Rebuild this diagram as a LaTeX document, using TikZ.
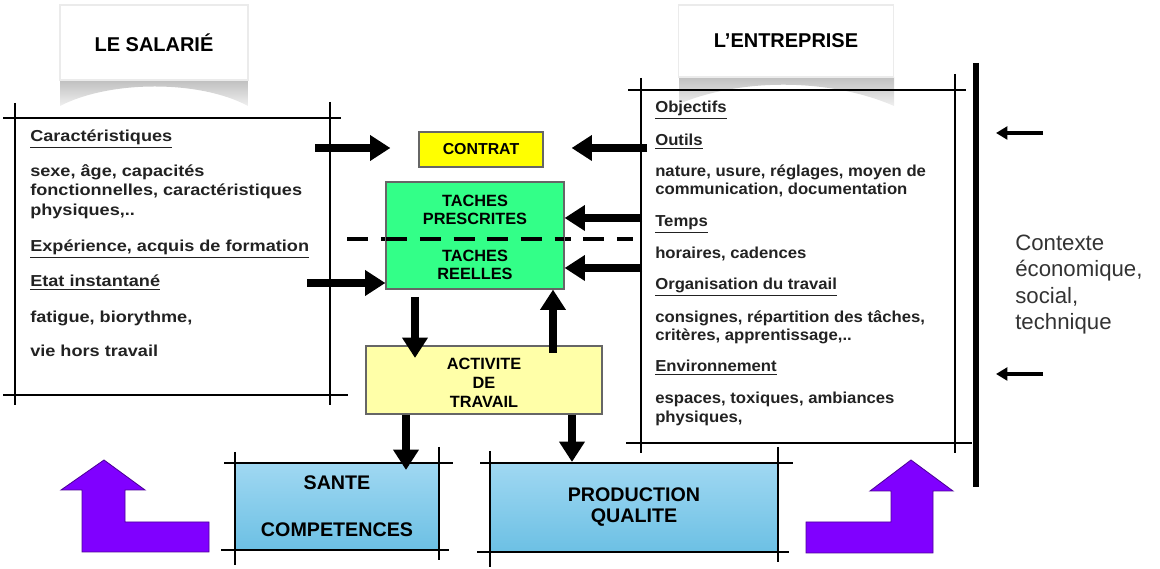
\documentclass[tikz,border=0pt]{standalone}
\usepackage{fontspec}
\setmainfont{Liberation Sans}
\newfontfamily\wideface[FakeStretch=1.14]{Liberation Sans}
\newfontfamily\narrowface[FakeStretch=1.05]{Liberation Sans}
\usetikzlibrary{arrows.meta}

\definecolor{textgrey}{HTML}{222222}
\definecolor{contratyellow}{HTML}{FFFF00}
\definecolor{activiteyellow}{HTML}{FFFFA8}
\definecolor{tachegreen}{HTML}{33FF88}
\definecolor{blueTop}{HTML}{A0D8F2}
\definecolor{blueBottom}{HTML}{6CC0E4}
\definecolor{retourviolet}{HTML}{8000FF}

\begin{document}
\begin{tikzpicture}[x=0.025cm, y=-0.025cm,
    frame/.style={line width=2.1pt},
    bigarrow/.style={line width=5.3pt, -{Triangle[width=17.5pt,length=14.5pt]}},
    smallarrow/.style={line width=2.8pt, -{Triangle[width=9pt,length=8pt]}},
    boxtext/.style={font=\wideface\fontsize{11.3}{13.8}\selectfont\bfseries, text=textgrey, anchor=base west, inner sep=0pt},
    boxtextright/.style={boxtext, font=\narrowface\fontsize{11.3}{13.8}\selectfont\bfseries},
    centerbox/.style={draw=black!60, line width=0.8pt, font=\fontsize{11.6}{12.8}\selectfont\bfseries, align=center, inner sep=0pt},
    resultbox/.style={top color=blueTop, bottom color=blueBottom, font=\fontsize{14}{15}\selectfont\bfseries, align=center, inner sep=0pt},
    tab/.style={fill=white, draw=black!8, line width=1pt, font=\fontsize{14.2}{16}\selectfont\bfseries, inner sep=0pt},
    retour/.style={fill=retourviolet, draw=retourviolet!60!black, line width=0.6pt}]

    \useasboundingbox (0,0) rectangle (1160,569);

    % onglets
    \shade [top color=gray!50, bottom color=gray!12] (60,80) -- (60,106) .. controls (110,80) and (200,80) .. (248,106) -- (248,80) -- cycle;
    \shade [top color=gray!50, bottom color=gray!12] (679,77) -- (679,104) .. controls (740,78) and (830,78) .. (894,106) -- (894,77) -- cycle;
    \node [tab, minimum width=4.7cm, minimum height=1.875cm] (salarie) at (154,42.5) {LE SALARI\'E};
    \node [tab, minimum width=5.375cm, minimum height=1.8cm] (entreprise) at (786,41) {L'ENTREPRISE};

    % cadre salarie
    \begin{scope}[frame]
        \draw (3,118) -- (341,118);
        \draw (3,395) -- (348,395);
        \draw (15,103) -- (15,405);
        \draw (330,102) -- (330,405);
    \end{scope}

    % cadre entreprise
    \begin{scope}[frame]
        \draw (628,90) -- (966,90);
        \draw (626,443) -- (972,443);
        \draw (641,78) -- (641,453);
        \draw (955,74) -- (955,453);
    \end{scope}
    \draw [line width=4.3pt] (976,63) -- (976,487);

    % textes salarie
    \node [boxtext] (l1) at (30,142) {\underline{Caract\'eristiques}};
    \node [boxtext] (l2) at (30,177) {sexe, \^age, capacit\'es};
    \node [boxtext] (l3) at (30,196) {fonctionnelles, caract\'eristiques};
    \node [boxtext] (l4) at (30,216) {physiques,..};
    \node [boxtext] (l5) at (30,252) {\underline{Exp\'erience, acquis de formation}};
    \node [boxtext] (l6) at (30,287) {\underline{Etat instantan\'e}};
    \node [boxtext] (l7) at (30,323) {fatigue, biorythme,};
    \node [boxtext] (l8) at (30,357) {vie hors travail};

    % textes entreprise
    \node [boxtextright] (r1) at (655,113) {\underline{Objectifs}};
    \node [boxtextright] (r2) at (655,146) {\underline{Outils}};
    \node [boxtextright] (r3) at (655,177) {nature, usure, r\'eglages, moyen de};
    \node [boxtextright] (r4) at (655,195) {communication, documentation};
    \node [boxtextright] (r5) at (655,227) {\underline{Temps}};
    \node [boxtextright] (r6) at (655,259) {horaires, cadences};
    \node [boxtextright] (r7) at (655,290) {\underline{Organisation du travail}};
    \node [boxtextright] (r8) at (655,323) {consignes, r\'epartition des t\^aches,};
    \node [boxtextright] (r9) at (655,341) {crit\`eres, apprentissage,..};
    \node [boxtextright] (r10) at (655,372) {\underline{Environnement}};
    \node [boxtextright] (r11) at (655,404) {espaces, toxiques, ambiances};
    \node [boxtextright] (r12) at (655,423) {physiques,};

    % boites centrales
    \draw [line width=3.2pt, dash pattern=on 15pt off 9pt] (347,239) -- (633,239);
    \node [centerbox, fill=contratyellow, minimum width=3.1cm, minimum height=0.875cm, font=\fontsize{11.3}{12.8}\selectfont\bfseries] (contrat) at (481,149.5) {CONTRAT};
    \node [centerbox, fill=tachegreen, minimum width=4.45cm, minimum height=2.675cm] (taches) at (475,235.5) {};
    \node [align=center, inner sep=0pt, font=\fontsize{11.6}{12.8}\selectfont\bfseries] (tachestexte) at (475,237.5) {TACHES\\PRESCRITES\\[13.4pt]TACHES\\REELLES};
    \draw [line width=3.2pt, dash pattern=on 15pt off 9pt] (386,239) -- (564,239);
    \node [centerbox, fill=activiteyellow, minimum width=5.9cm, minimum height=1.7cm] (activite) at (484,380) {};
    \node [align=center, inner sep=0pt, font=\fontsize{11.6}{13.3}\selectfont\bfseries] (activitetexte) at (484,383) {ACTIVITE\\DE\\TRAVAIL};

    % resultats
    \node [resultbox, minimum width=5.1cm, minimum height=2.175cm] (sante) at (337,506.5) {SANTE\\[18.5pt]COMPETENCES};
    \node [resultbox, minimum width=7.2cm, minimum height=2.225cm] (production) at (634,507.5) {PRODUCTION\\QUALITE};
    \begin{scope}[frame]
        \draw (224,463) -- (453,463);
        \draw (221,550) -- (449,550);
        \draw (235,452) -- (235,565);
        \draw (439,447) -- (439,560);
        \draw (480,463) -- (793,463);
        \draw (477,552) -- (789,552);
        \draw (490,451) -- (490,567);
        \draw (778,447) -- (778,562);
    \end{scope}

    % fleches
    \coordinate (sc) at (315,148);
    \coordinate (ec) at (647,148);
    \coordinate (et) at (642,218);
    \coordinate (er) at (642,268);
    \coordinate (se) at (307,283);
    \coordinate (down1) at (415,297);
    \coordinate (down1end) at (415,358);
    \coordinate (up1) at (553,353);
    \coordinate (sante in) at (406,470);
    \coordinate (prod in) at (572,462);
    \coordinate (cx1) at (1043,133);
    \coordinate (cx2) at (1043,374);

    \begin{scope}[bigarrow]
        \draw [shorten >=0.7cm] (sc) -- (sc -| contrat.west);
        \draw [shorten >=0.7cm] (ec) -- (ec -| contrat.east);
        \draw (et) -- (et -| taches.east);
        \draw (er) -- (er -| taches.east);
        \draw (se) -- (se -| taches.west);
        \draw (down1) -- (down1end);
        \draw (up1) -- (up1 |- taches.south);
        \draw (sante in |- activite.south) -- (sante in);
        \draw (prod in |- activite.south) -- (prod in);
    \end{scope}

    \draw [smallarrow] (cx1) -- (996,133);
    \draw [smallarrow] (cx2) -- (996,374);

    \node [anchor=west, align=left, inner sep=0pt, text=black!80, font=\fontsize{15.8}{18.8}\selectfont] (contexte) at (1015,284.5) {Contexte\\\'economique,\\social,\\technique};

    % retours
    \draw [retour] (104,460) -- (145,490) -- (125,490) -- (125,522) -- (209,522) -- (209,552) -- (82,552) -- (82,490) -- (61,490) -- cycle;
    \draw [retour] (911,460) -- (953,491) -- (933,491) -- (933,553) -- (806,553) -- (806,522) -- (891,522) -- (891,491) -- (870,491) -- cycle;

\end{tikzpicture}
\end{document}
